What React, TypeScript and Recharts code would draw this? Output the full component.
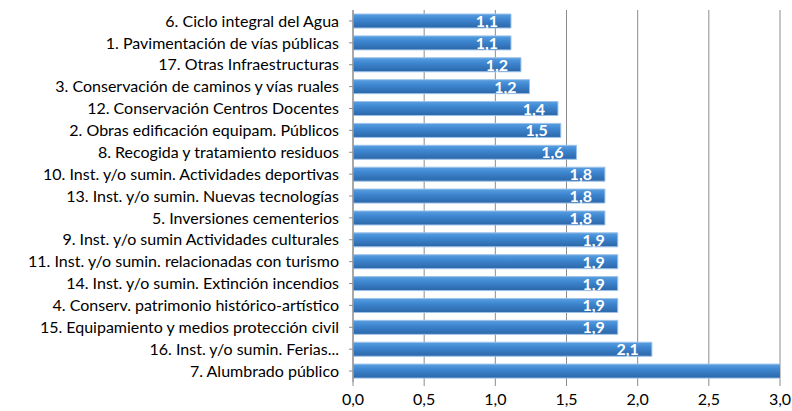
import React from 'react';
import { BarChart, Bar, XAxis, YAxis, CartesianGrid, LabelList } from 'recharts';

const categories = [
  '6. Ciclo integral del Agua',
  '1. Pavimentación de vías públicas',
  '17.  Otras Infraestructuras',
  '3. Conservación de caminos y vías ruales',
  '12. Conservación Centros Docentes',
  '2. Obras edificación equipam. Públicos',
  '8. Recogida y tratamiento residuos',
  '10. Inst. y/o sumin. Actividades deportivas',
  '13. Inst. y/o sumin. Nuevas tecnologías',
  '5. Inversiones cementerios',
  '9. Inst. y/o sumin Actividades culturales',
  '11. Inst. y/o sumin. relacionadas con turismo',
  '14. Inst. y/o sumin. Extinción incendios',
  '4. Conserv. patrimonio histórico-artístico',
  '15. Equipamiento y medios protección civil',
  '16. Inst. y/o sumin. Ferias...',
  '7. Alumbrado público',
];

const values = [1.11, 1.11, 1.18, 1.24, 1.44, 1.46, 1.57, 1.77, 1.77, 1.77, 1.86, 1.86, 1.86, 1.86, 1.86, 2.1, 3.02];

const xTicks = [0, 0.5, 1, 1.5, 2, 2.5, 3];
const xMax = 3;

const data = categories.map((name, i) => ({ name, value: values[i] }));

const fmt = (v: number) => v.toFixed(1).replace('.', ',');

const FONT = 'Lato, "Open Sans", sans-serif';

const ValueLabel = (props: any) => {
  const { x, y, width, height, value } = props;
  if (value > xMax) return null;
  return (
    <text
      x={x + width - 13}
      y={y + height / 2 + 6}
      textAnchor="end"
      fill="#ffffff"
      fontFamily={FONT}
      fontWeight="bold"
      fontSize={16}
    >
      {fmt(value)}
    </text>
  );
};

export default function App() {
  return (
    <div style={{ width: 792, height: 411, background: '#fff' }}>
      <style>{`body{margin:0}`}</style>
      <BarChart
        width={792}
        height={411}
        data={data}
        layout="vertical"
        margin={{ top: 10, right: 12, bottom: 0, left: 0 }}
        barCategoryGap={4}
      >
        <defs>
          <linearGradient id="barGrad" x1="0" y1="0" x2="0" y2="1">
            <stop offset="0%" stopColor="#5a9fe0" />
            <stop offset="35%" stopColor="#3f88d2" />
            <stop offset="100%" stopColor="#2b66a8" />
          </linearGradient>
        </defs>
        <CartesianGrid horizontal={false} stroke="#8c8c8c" strokeWidth={1} />
        <XAxis
          type="number"
          domain={[0, xMax]}
          ticks={xTicks}
          allowDataOverflow
          tickFormatter={fmt}
          axisLine={false}
          tickLine={{ stroke: '#8c8c8c' }}
          tickSize={4}
          tickMargin={8}
          height={29}
          tick={{ fill: '#000', fontSize: 16, fontFamily: FONT }}
        />
        <YAxis
          type="category"
          dataKey="name"
          width={353}
          interval={0}
          axisLine={{ stroke: '#8c8c8c' }}
          tickLine={{ stroke: '#8c8c8c' }}
          tickSize={4}
          tickMargin={10}
          tick={{ fill: '#000', fontSize: 16, fontFamily: FONT }}
        />
        <Bar
          dataKey="value"
          fill="url(#barGrad)"
          stroke="#9cc2ea"
          strokeWidth={1}
          isAnimationActive={false}
        >
          <LabelList dataKey="value" content={ValueLabel} />
        </Bar>
      </BarChart>
    </div>
  );
}
